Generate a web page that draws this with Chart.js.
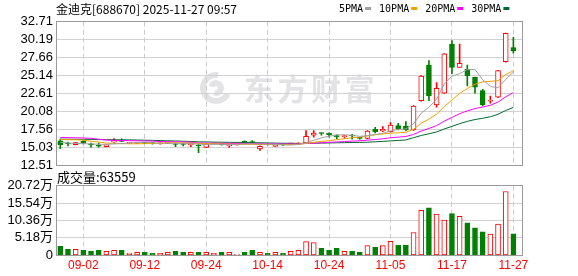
<!DOCTYPE html>
<html lang="zh-CN">
<head>
<meta charset="UTF-8">
<title>金迪克 K线</title>
<script src="https://cdn.jsdelivr.net/npm/chart.js@4.4.1/dist/chart.umd.min.js"></script>
<style>
  html, body { margin: 0; padding: 0; background: #fff; }
  #wrap { position: relative; width: 578px; height: 276px; overflow: hidden; }
  #kline { position: absolute; left: 0; top: 0; }
  #vol { position: absolute; left: 0; top: 168px; }
</style>
</head>
<body>
<div id="wrap">
  <canvas id="kline" width="578" height="180"></canvas>
  <canvas id="vol" width="578" height="108"></canvas>
</div>
<script>
const stockName = '金迪克';
const stockCode = '688670';
const stamp = '2025-11-27 09:57';

const dates = ['08-28','08-29','09-01','09-02','09-03','09-04','09-05','09-08','09-09','09-10',
  '09-11','09-12','09-15','09-16','09-17','09-18','09-19','09-22','09-23','09-24',
  '09-25','09-26','09-29','09-30','10-09','10-10','10-13','10-14','10-15','10-16',
  '10-17','10-20','10-21','10-22','10-23','10-24','10-27','10-28','10-29','10-30',
  '10-31','11-03','11-04','11-05','11-06','11-07','11-10','11-11','11-12','11-13',
  '11-14','11-17','11-18','11-19','11-20','11-21','11-24','11-25','11-26','11-27'];

const opens = [15.90,15.55,15.37,15.85,15.40,15.20,15.09,15.75,15.95,15.55,
  15.55,15.65,15.60,15.50,15.55,15.45,15.45,15.33,15.33,15.00,
  15.48,15.40,15.23,15.35,15.75,15.75,14.77,15.50,15.13,15.40,
  15.47,15.45,15.61,16.70,17.02,17.02,16.60,16.50,16.70,16.35,
  16.27,17.53,17.30,17.20,18.05,18.01,17.45,21.58,26.61,20.97,
  22.63,29.56,26.28,26.01,24.88,22.99,21.50,22.06,27.08,29.07];
const highs = [16.18,15.75,15.72,15.94,15.61,15.61,15.40,16.25,16.20,15.70,
  15.70,15.72,15.66,15.62,15.70,15.65,15.60,15.60,15.47,15.50,
  15.60,15.50,15.40,15.45,15.90,15.95,15.20,15.55,15.25,15.45,
  15.60,15.62,17.35,17.35,17.05,17.05,16.78,16.70,16.84,16.45,
  17.35,17.83,17.91,18.48,18.39,18.62,20.90,25.10,27.22,24.12,
  28.20,30.04,29.57,26.60,24.90,23.19,22.24,25.85,31.10,30.52];
const lows = [14.81,15.19,15.33,15.47,15.01,15.01,15.05,15.70,15.80,15.50,
  15.50,15.50,15.45,15.46,15.50,15.09,15.20,15.09,14.24,14.95,
  15.45,15.30,15.00,15.30,15.55,15.55,14.58,15.30,15.08,15.25,
  15.40,15.40,15.55,16.42,16.70,16.42,16.18,16.30,16.14,16.15,
  16.20,17.02,17.20,17.15,17.45,17.35,17.40,21.50,21.58,20.65,
  22.60,25.40,26.25,23.65,22.62,20.83,21.21,22.00,27.00,28.26];
const closes = [15.37,15.47,15.66,15.57,15.35,15.15,15.37,15.95,15.85,15.62,
  15.65,15.55,15.52,15.58,15.65,15.40,15.40,15.57,15.19,15.47,
  15.52,15.35,15.37,15.40,15.70,15.68,15.15,15.37,15.17,15.33,
  15.56,15.55,16.56,17.02,16.95,16.78,16.50,16.60,16.60,16.27,
  17.30,17.20,17.53,18.15,17.59,17.45,20.83,25.06,22.30,23.33,
  28.17,26.28,26.85,25.10,23.47,20.97,21.58,25.81,31.08,28.60];

const ma5 = [15.70,15.62,15.55,15.52,15.48,15.44,15.42,15.48,15.53,15.59,
  15.69,15.72,15.64,15.58,15.59,15.54,15.51,15.52,15.44,15.41,
  15.43,15.42,15.38,15.42,15.47,15.50,15.46,15.46,15.41,15.34,
  15.32,15.40,15.63,16.00,16.33,16.57,16.76,16.77,16.69,16.55,
  16.65,16.79,16.98,17.29,17.55,17.58,18.31,19.82,20.65,21.79,
  23.94,25.03,25.39,25.95,25.97,24.53,23.59,23.39,24.58,25.61];
const ma10 = [16.10,16.08,16.06,16.02,15.85,15.75,15.60,15.55,15.52,15.50,
  15.50,15.52,15.55,15.60,15.63,15.64,15.62,15.60,15.55,15.52,
  15.50,15.47,15.45,15.43,15.42,15.42,15.40,15.40,15.39,15.39,
  15.41,15.43,15.55,15.71,15.83,15.94,16.08,16.20,16.35,16.44,
  16.61,16.78,16.88,16.99,17.05,17.12,17.55,18.40,18.97,19.67,
  20.76,21.67,22.60,23.30,23.88,24.24,24.31,24.39,25.26,25.79];
const ma20 = [16.38,16.37,16.35,16.32,16.27,16.15,16.02,15.98,15.96,15.94,
  15.92,15.90,15.88,15.82,15.80,15.78,15.76,15.72,15.62,15.60,
  15.58,15.57,15.56,15.55,15.55,15.54,15.52,15.50,15.48,15.47,
  15.47,15.48,15.54,15.60,15.64,15.70,15.76,15.81,15.88,15.92,
  16.01,16.10,16.21,16.35,16.44,16.53,16.82,17.30,17.66,18.06,
  18.69,19.22,19.74,20.14,20.47,20.68,20.93,21.39,22.12,22.73];
const ma30 = [16.15,16.15,16.14,16.13,16.12,16.10,16.08,16.07,16.06,16.05,
  16.03,16.00,15.98,15.95,15.92,15.90,15.86,15.82,15.78,15.76,
  15.74,15.72,15.70,15.70,15.68,15.66,15.64,15.62,15.60,15.58,
  15.57,15.56,15.57,15.58,15.60,15.62,15.64,15.66,15.68,15.70,
  15.72,15.78,15.84,15.91,15.97,16.04,16.36,16.67,16.91,17.17,
  17.59,17.96,18.34,18.66,18.92,19.10,19.31,19.66,20.19,20.63];

// 成交量, 万
const volumes = [2.66,1.78,1.78,1.48,1.18,1.48,1.18,1.48,1.48,0.69,
  0.89,0.89,0.59,0.59,0.89,1.18,0.89,0.89,0.89,0.89,
  0.59,0.89,0.89,0.30,0.89,1.48,0.89,0.59,0.89,0.59,
  1.18,1.48,4.05,3.75,2.07,1.48,2.07,1.18,1.18,0.89,
  2.86,2.37,2.86,4.14,2.96,2.96,6.80,13.40,14.10,12.30,
  10.45,12.40,11.60,9.66,8.18,7.00,6.30,9.27,19.00,6.3559];
const lastVolume = 63559;

const priceTicks = [12.51, 15.03, 17.56, 20.08, 22.61, 25.14, 27.66, 30.19, 32.71];
const volumeTicks = [0, 5.18, 10.36, 15.54, 20.72];
const dateTicks = ['09-02','09-12','09-24','10-14','10-24','11-05','11-17','11-27'];

const UP = '#ff0000';
const DOWN = '#008000';
const isUp = closes.map((c, i) => c >= opens[i]);
const dateTickIdx = dateTicks.map(d => dates.indexOf(d));
const numFont = '"Liberation Sans", "Noto Sans CJK SC", sans-serif';

function xScale(showLabels) {
  return {
    type: 'linear', min: -0.56, max: 60.16, offset: false,
    afterBuildTicks: s => { s.ticks = dateTickIdx.map(v => ({ value: v })); },
    afterFit: s => { s.height = showLabels ? 20.7 : 0; },
    ticks: {
      display: showLabels, autoSkip: false, maxRotation: 0, padding: 3,
      color: '#ff0000', font: { family: numFont, size: 12 },
      callback: v => dates[v]
    },
    grid: { color: '#cccccc', drawTicks: false, offset: false },
    border: { display: false, dash: [5, 3] }
  };
}

function yScale(min, max, ticks, fmt) {
  return {
    type: 'linear', min: min, max: max, beginAtZero: false,
    afterBuildTicks: s => { s.ticks = ticks.map(v => ({ value: v })); },
    afterFit: s => { s.width = 56; },
    ticks: { autoSkip: false, padding: 3, color: '#000', font: { family: numFont, size: 13 }, callback: fmt },
    grid: { color: '#d2d2d2', drawTicks: false },
    border: { display: false }
  };
}

// 外框
const frame = {
  id: 'frame',
  afterDraw(chart) {
    const { ctx, chartArea: a } = chart;
    const l = Math.floor(a.left) + 0.5, t = Math.floor(a.top) + 0.5;
    const r = Math.floor(a.right) + 0.5, b = Math.floor(a.bottom) + 0.5;
    ctx.save();
    ctx.strokeStyle = '#9a9a9a';
    ctx.lineWidth = 1;
    ctx.strokeRect(l, t, r - l, b - t);
    ctx.restore();
  }
};

// 水印
const watermark = {
  id: 'watermark',
  beforeDraw(chart) {
    const ctx = chart.ctx;
    ctx.save();
    ctx.strokeStyle = '#e3e3e6';
    ctx.fillStyle = '#e3e3e6';
    ctx.lineWidth = 6;
    ctx.beginPath();
    ctx.arc(216, 88, 13, 0.15 * Math.PI, 1.55 * Math.PI);
    ctx.stroke();
    ctx.beginPath();
    ctx.arc(216, 88, 5, 1.1 * Math.PI, 2.6 * Math.PI);
    ctx.stroke();
    ctx.font = 'bold 30px "Noto Sans CJK SC"';
    ctx.textBaseline = 'middle';
    const chars = ['东', '方', '财', '富'];
    chars.forEach((ch, k) => ctx.fillText(ch, 244 + k * 33.5, 89));
    ctx.restore();
  }
};

// 标题与图例
const header = {
  id: 'header',
  afterDraw(chart) {
    const ctx = chart.ctx;
    ctx.save();
    ctx.fillStyle = '#000';
    ctx.textBaseline = 'middle';
    ctx.font = '12px "Noto Sans CJK SC"';
    ctx.fillText(stockName + '[' + stockCode + '] ' + stamp, 56, 9.5);
    ctx.font = '10px "DejaVu Sans Mono"';
    let x = 339;
    chart.data.datasets.filter(d => d.type === 'line').forEach(d => {
      ctx.fillStyle = '#000';
      ctx.fillText(d.label, x, 9.5);
      x += ctx.measureText(d.label).width + 2;
      ctx.fillStyle = d.borderColor;
      ctx.fillRect(x, 7, 6, 3);
      x += 6 + 8;
    });
    ctx.restore();
  }
};

const volTitle = {
  id: 'volTitle',
  afterDraw(chart) {
    const ctx = chart.ctx;
    ctx.save();
    ctx.fillStyle = '#000';
    ctx.textBaseline = 'middle';
    ctx.font = '13px "Noto Sans CJK SC"';
    ctx.fillText('成交量:' + lastVolume, 57, 9.5);
    ctx.restore();
  }
};

function maLine(label, values, color) {
  return {
    type: 'line', label: label, order: 1,
    data: values.map((v, i) => ({ x: i, y: v })),
    borderColor: color, borderWidth: 1, pointRadius: 0, tension: 0, fill: false
  };
}

new Chart(document.getElementById('kline'), {
  type: 'bar',
  data: {
    datasets: [
      maLine('5PMA', ma5, '#a0a0a0'),
      maLine('10PMA', ma10, '#f0a000'),
      maLine('20PMA', ma20, '#ff00ff'),
      maLine('30PMA', ma30, '#006a31'),
      {
        type: 'bar', label: 'body', order: 2, grouped: false,
        data: opens.map((o, i) => ({ x: i, y: [o, closes[i]] })),
        backgroundColor: isUp.map(u => u ? '#ffffff' : DOWN),
        borderColor: isUp.map(u => u ? UP : DOWN),
        borderWidth: 1, borderSkipped: false, barThickness: 5, minBarLength: 1
      },
      {
        type: 'bar', label: 'wick', order: 3, grouped: false,
        data: lows.map((l, i) => ({ x: i, y: [l, highs[i]] })),
        backgroundColor: isUp.map(u => u ? UP : DOWN),
        borderWidth: 0, barThickness: 1
      }
    ]
  },
  options: {
    responsive: false, animation: false, devicePixelRatio: 1,
    layout: { padding: { left: 0, right: 55.7, top: 21.7, bottom: 15 } },
    plugins: { legend: { display: false }, tooltip: { enabled: false } },
    scales: {
      x: xScale(false),
      y: yScale(12.51, 32.71, priceTicks, v => v.toFixed(2))
    }
  },
  plugins: [watermark, frame, header]
});

new Chart(document.getElementById('vol'), {
  type: 'bar',
  data: {
    datasets: [{
      label: '成交量', grouped: false,
      data: volumes.map((v, i) => ({ x: i, y: v })),
      backgroundColor: isUp.map(u => u ? '#ffffff' : DOWN),
      borderColor: isUp.map(u => u ? UP : DOWN),
      borderWidth: 1, borderSkipped: false, barThickness: 5
    }]
  },
  options: {
    responsive: false, animation: false, devicePixelRatio: 1,
    layout: { padding: { left: 0, right: 55.7, top: 17.7, bottom: 0 } },
    plugins: { legend: { display: false }, tooltip: { enabled: false } },
    scales: {
      x: xScale(true),
      y: yScale(0, 20.72, volumeTicks, v => v === 0 ? '0' : v.toFixed(2) + '万')
    }
  },
  plugins: [frame, volTitle]
});
</script>
</body>
</html>
